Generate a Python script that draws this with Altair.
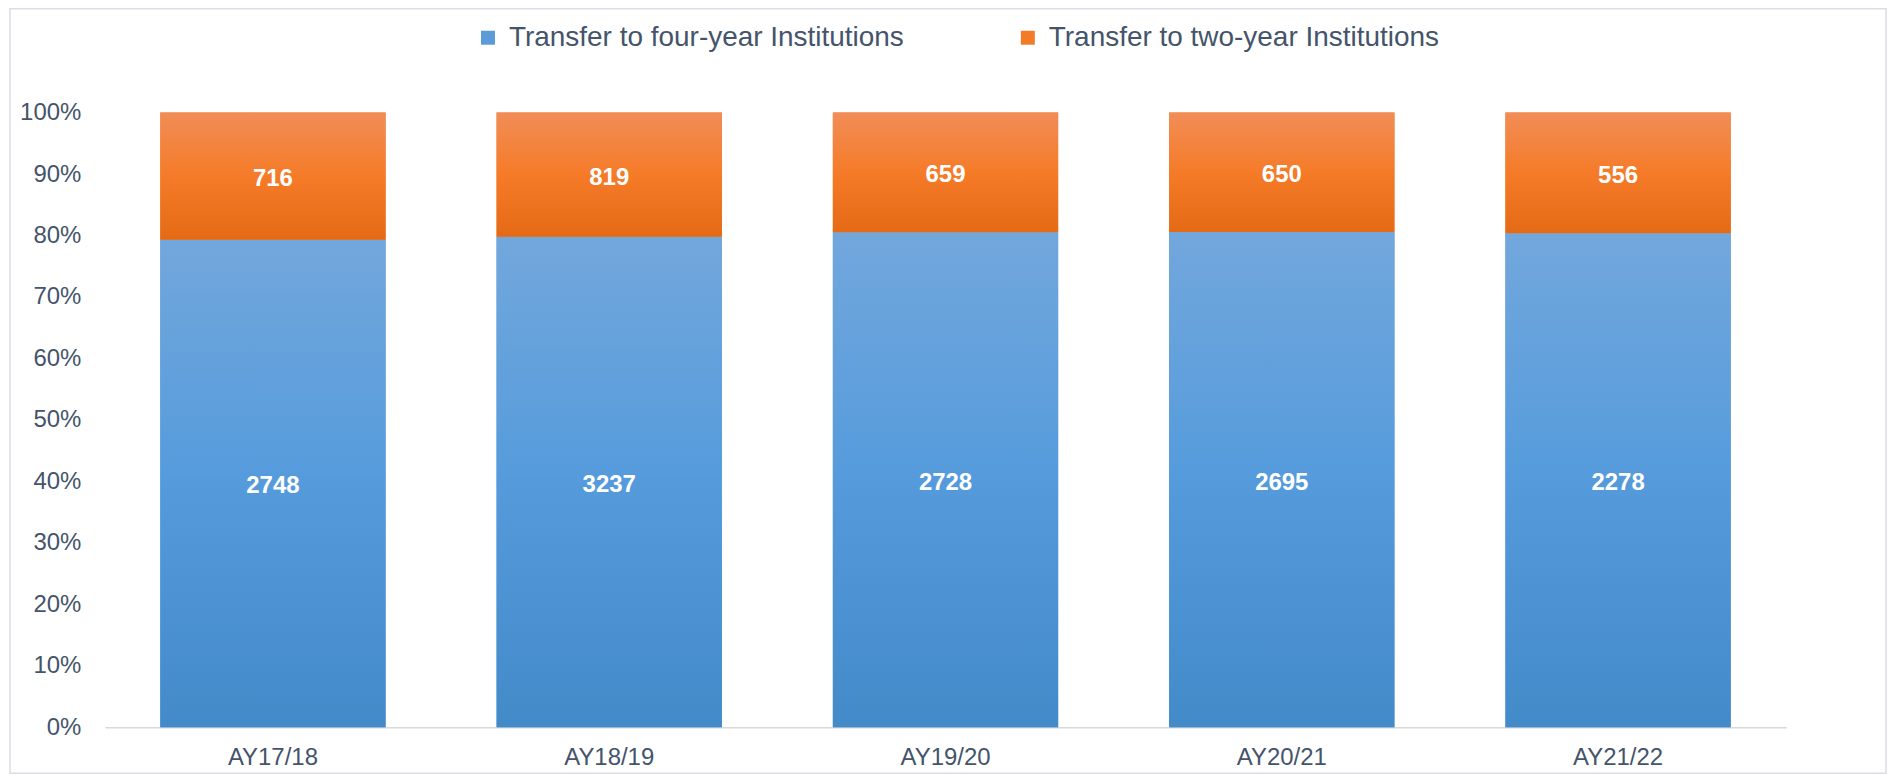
import altair as alt
import pandas as pd

years = ["AY17/18", "AY18/19", "AY19/20", "AY20/21", "AY21/22"]
four_year = [2748, 3237, 2728, 2695, 2278]
two_year = [716, 819, 659, 650, 556]
series_names = ["Transfer to four-year Institutions", "Transfer to two-year Institutions"]
solid_colors = ["#5A9BD8", "#F27B2A"]
y_ticks = [0, 0.1, 0.2, 0.3, 0.4, 0.5, 0.6, 0.7, 0.8, 0.9, 1.0]

rows = []
for yr, f, t in zip(years, four_year, two_year):
    tot = f + t
    rows.append(dict(year=yr, series=series_names[0], count=f, start=0.0, end=f / tot))
    rows.append(dict(year=yr, series=series_names[1], count=t, start=f / tot, end=1.0))
df = pd.DataFrame(rows)
df["mid"] = (df["start"] + df["end"]) / 2

W, H = 1685, 616
FONT = "Liberation Sans"
TXT = "#44546A"

blue_grad = alt.LinearGradient(
    gradient="linear", x1=0, x2=0, y1=0, y2=1,
    stops=[alt.GradientStop(color="#72A7DC", offset=0),
           alt.GradientStop(color="#559BDC", offset=0.5),
           alt.GradientStop(color="#438AC9", offset=1)])
orange_grad = alt.LinearGradient(
    gradient="linear", x1=0, x2=0, y1=0, y2=1,
    stops=[alt.GradientStop(color="#F18D57", offset=0),
           alt.GradientStop(color="#F57B28", offset=0.5),
           alt.GradientStop(color="#E56A16", offset=1)])

x_enc = alt.X("year:N", sort=years,
              scale=alt.Scale(paddingInner=0.33, paddingOuter=0.165),
              axis=alt.Axis(title=None, labelAngle=0, ticks=False, domainColor="#D9D9D9",
                            domainWidth=1.5, labelPadding=18, labelFontSize=24,
                            labelColor=TXT, labelFont=FONT))
y_enc = alt.Y("start:Q", scale=alt.Scale(domain=[0, 1]),
              axis=alt.Axis(title=None, format=".0%", values=y_ticks, grid=False, ticks=False,
                            domain=False, labelPadding=24, labelFontSize=24,
                            labelColor=TXT, labelFont=FONT))

base = alt.Chart(df)

bars = base.mark_bar().encode(
    x=x_enc, y=y_enc, y2="end:Q",
    color=alt.Color("series:N",
                    scale=alt.Scale(domain=series_names, range=solid_colors),
                    legend=alt.Legend(title=None, orient="none", direction="horizontal",
                                      legendX=370, legendY=-89, symbolType="square",
                                      symbolSize=196, symbolStrokeWidth=0,
                                      labelFontSize=28, labelFont=FONT, labelColor=TXT,
                                      labelLimit=600, labelOffset=7, columnPadding=110)))

blue = base.transform_filter(alt.datum.series == series_names[0]).mark_bar(fill=blue_grad).encode(
    x=alt.X("year:N", sort=years), y="start:Q", y2="end:Q")
orange = base.transform_filter(alt.datum.series == series_names[1]).mark_bar(fill=orange_grad).encode(
    x=alt.X("year:N", sort=years), y="start:Q", y2="end:Q")

labels = base.mark_text(color="white", fontWeight="bold", fontSize=24, font=FONT,
                        baseline="middle", dy=3).encode(
    x=alt.X("year:N", sort=years), y="mid:Q", text="count:Q")

frame = alt.Chart(pd.DataFrame({"a": [0]})).mark_rect(
    fillOpacity=0, stroke="#D9DEE6", strokeWidth=1.5).encode(
    x=alt.value(-95), x2=alt.value(W + 100), y=alt.value(-104), y2=alt.value(H + 46))

chart = alt.layer(frame, bars, blue, orange, labels).properties(
    width=W, height=H,
    autosize=alt.AutoSizeParams(type="none"),
    padding={"left": 97, "top": 104, "right": 102, "bottom": 48},
    background="white",
).configure_view(strokeWidth=0)

chart.save("out.html", embed_options={"renderer": "svg", "actions": False})
